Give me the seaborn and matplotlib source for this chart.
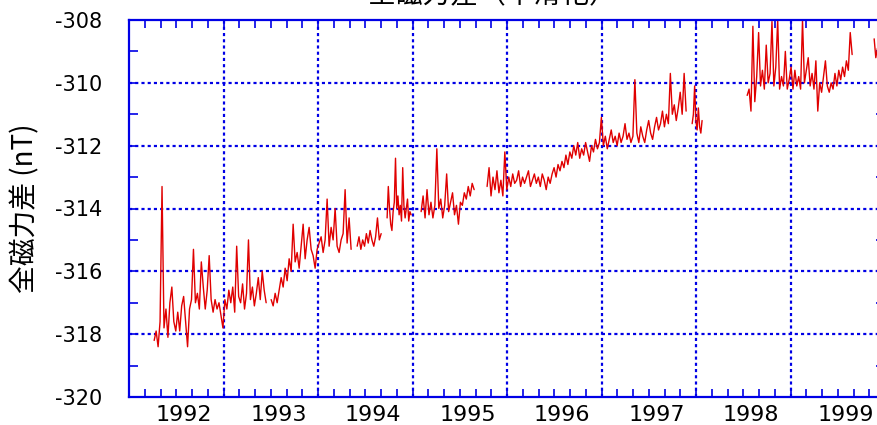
import numpy as np
import pandas as pd
import seaborn as sns
import matplotlib.pyplot as plt

# chart texts
TITLE = "全磁力差（平滑化）"
YLABEL = "全磁力差 (nT)"
YEAR_LABELS = ["1992", "1993", "1994", "1995", "1996", "1997", "1998", "1999"]
YEAR_POS = [1992, 1993, 1994, 1995, 1996, 1997, 1998, 1999]

# observation periods (decimal year), gaps between them
SEG_START = [1991.683, 1992.921, 1993.831, 1994.148, 1994.508, 1995.206, 1997.376, 1997.958, 1999.302]
SEG_END = [1992.868, 1993.767, 1994.085, 1994.402, 1995.069, 1997.312, 1997.481, 1999.069, 1999.354]

# total force difference (nT) per period
SEG_A1 = [-318.2, -317.9, -318.4, -317.6, -313.3, -317.8, -317.2, -318.1, -317.0, -316.5,
          -317.6, -317.9, -317.3, -317.9, -317.1, -316.8, -317.6, -318.4, -317.2, -316.9,
          -315.3, -317.0, -316.7, -317.2, -315.7, -316.5, -317.2, -316.6, -315.5, -316.9,
          -317.3, -316.9, -317.2, -317.0, -317.4, -317.8, -316.9, -317.2, -316.6, -317.0,
          -316.5, -317.3, -315.2, -316.8, -317.0, -316.4, -317.2, -316.7, -315.0, -316.9,
          -316.5, -317.1, -316.7, -316.2, -316.9, -316.0, -316.6, -317.0]
SEG_A2 = [-316.9, -317.1, -316.7, -317.0, -316.6, -316.2, -316.5, -315.9, -316.3, -315.6,
          -316.0, -314.5, -315.7, -315.4, -315.9, -315.2, -314.5, -315.6, -315.0, -314.6,
          -315.3, -315.5, -315.9, -315.3, -315.1, -314.9, -315.4, -315.0, -313.7, -315.2,
          -314.6, -315.0, -314.0, -315.2, -315.4, -315.0, -314.8, -313.4, -315.1, -314.3,
          -315.3]
SEG_B = [-315.2, -314.9, -315.3, -315.0, -315.2, -314.8, -315.1, -314.7, -315.0, -315.2,
         -314.9, -314.3, -315.0, -314.8]
SEG_C = [-314.3, -313.3, -314.0, -314.5, -314.7, -314.1, -313.8, -312.4, -314.0, -313.6,
         -314.2, -313.9, -314.4, -312.7, -313.9, -314.3, -314.0, -313.7, -314.4, -314.1,
         -314.2]
SEG_D = [-314.1, -313.6, -314.3, -313.4, -314.2, -313.8, -314.3, -313.9, -312.1, -314.0,
         -313.7, -314.3, -313.9, -312.9, -314.1, -313.8, -313.5, -314.2, -313.9, -314.5,
         -313.8, -313.9, -313.5, -313.7, -313.3, -313.6, -313.2, -313.4]
SEG_E1 = [-313.3, -312.7, -313.6, -313.0, -313.4, -312.8, -313.5, -313.1, -313.6, -312.2,
          -313.4, -313.0, -313.3, -312.9, -313.2, -313.1, -312.8, -313.3, -313.0, -313.2,
          -313.0, -312.8, -313.3, -313.1, -312.9, -313.2, -313.0, -313.3, -312.9, -313.1,
          -313.4, -313.0, -313.2, -312.9, -312.7, -313.0, -312.6, -312.8, -312.5, -312.7,
          -312.3, -312.6, -312.2, -312.4, -312.0, -312.3, -311.9, -312.4, -312.1, -312.3,
          -311.9, -312.2, -312.5, -312.0, -312.2, -311.8, -312.1, -311.9, -311.1, -312.0,
          -311.7, -312.1, -311.8, -311.5, -311.9, -311.7, -312.0, -311.6, -311.9, -311.7,
          -311.3, -311.8, -311.6, -311.9, -311.7, -309.9, -311.6, -311.9, -311.4, -311.7,
          -311.9, -311.5, -311.2, -311.6, -311.8, -311.4, -311.1, -311.5, -311.3, -310.9,
          -311.4, -311.0, -311.3, -309.7, -311.0, -310.7, -311.2, -310.8, -310.3, -311.0,
          -309.7, -310.9]
SEG_E2 = [-311.3, -311.0, -310.1, -311.2, -311.5, -310.8, -311.4, -311.6, -311.2]
SEG_F = [-310.4, -310.2, -310.9, -308.2, -310.6, -309.8, -308.4, -310.1, -309.6, -310.2,
         -308.8, -310.0, -309.7, -308.05, -310.1, -309.5, -308.0, -310.2, -309.8, -310.1,
         -309.0, -310.2, -309.9, -309.5, -310.2, -309.6, -310.1, -309.8, -310.2, -308.0,
         -310.0, -309.6, -309.2, -310.1, -309.7, -310.2, -309.3, -310.9, -310.0, -310.3,
         -309.8, -309.3, -310.1, -310.3, -310.0, -310.2, -309.7, -310.1, -309.6, -309.9,
         -309.5, -309.8, -309.3, -309.6, -308.4, -309.1]
SEG_G = [-308.6, -309.2, -308.9, -309.4]

SEGMENTS = [SEG_A1, SEG_A2, SEG_B, SEG_C, SEG_D, SEG_E1, SEG_E2, SEG_F, SEG_G]

frames = []
for i, vals in enumerate(SEGMENTS):
    yrs = np.linspace(SEG_START[i], SEG_END[i], len(vals))
    frames.append(pd.DataFrame({"year": yrs, "nT": vals, "seg": i}))
df = pd.concat(frames, ignore_index=True)

sns.set_theme(style="ticks")
plt.rcParams['font.family'] = ['DejaVu Sans', 'Noto Sans CJK JP']
plt.rcParams['text.color'] = 'black'
plt.rcParams['axes.labelcolor'] = 'black'
plt.rcParams['xtick.labelcolor'] = 'black'
plt.rcParams['ytick.labelcolor'] = 'black'

BLUE = '#0000e6'
RED = '#e00000'

fig = plt.figure(figsize=(8.78, 4.25), dpi=100)
ax = fig.add_axes([129 / 878, 1 - 397 / 425, 756 / 878, 377 / 425])

sns.lineplot(data=df, x="year", y="nT", units="seg", estimator=None,
             color=RED, lw=1.0, ax=ax, legend=False)

x0 = 1991 + 5 / 12
ax.set_xlim(x0, x0 + 8)
ax.set_ylim(-320, -308)

# grid
for k in range(1, 8):
    ax.axvline(x0 + k, color=BLUE, lw=1.6, ls=(0, (1.4, 1.4)), zorder=0)
for v in [-318, -316, -314, -312, -310]:
    ax.axhline(v, color=BLUE, lw=1.6, ls=(0, (1.4, 1.4)), zorder=0)

# ticks
ax.set_yticks(np.arange(-320, -307, 2))
ax.set_yticks(np.arange(-319, -308, 2), minor=True)
ax.set_yticklabels([str(v) for v in range(-320, -307, 2)])
ax.set_xticks(YEAR_POS)
ax.set_xticklabels(YEAR_LABELS)
ax.set_xticks([x0 + k / 6 for k in range(0, 49)], minor=True)

ax.tick_params(axis='y', which='both', direction='in', length=6.5, width=1.2,
               color=BLUE, left=True, right=True, labelsize=15, pad=19.5,
               labelcolor='black')
ax.tick_params(axis='x', which='major', length=0, labelsize=16, pad=6,
               labelcolor='black')
ax.tick_params(axis='x', which='minor', direction='in', length=5.5, width=1.2,
               color=BLUE, top=True, bottom=True)

for s in ax.spines.values():
    s.set_color(BLUE)
    s.set_linewidth(1.6)

ax.set_xlabel("")
ax.set_ylabel(YLABEL, fontsize=20, family=['Noto Sans CJK JP', 'DejaVu Sans'],
              labelpad=10, color='black')

# title sits at the very top edge, as in the reference
fig.text(493 / 878, 1 - 3 / 425, TITLE, ha='center', va='baseline', fontsize=20,
         color='black', family=['Noto Sans CJK JP', 'DejaVu Sans'])

fig.savefig("out.png", dpi=100)
plt.close(fig)
